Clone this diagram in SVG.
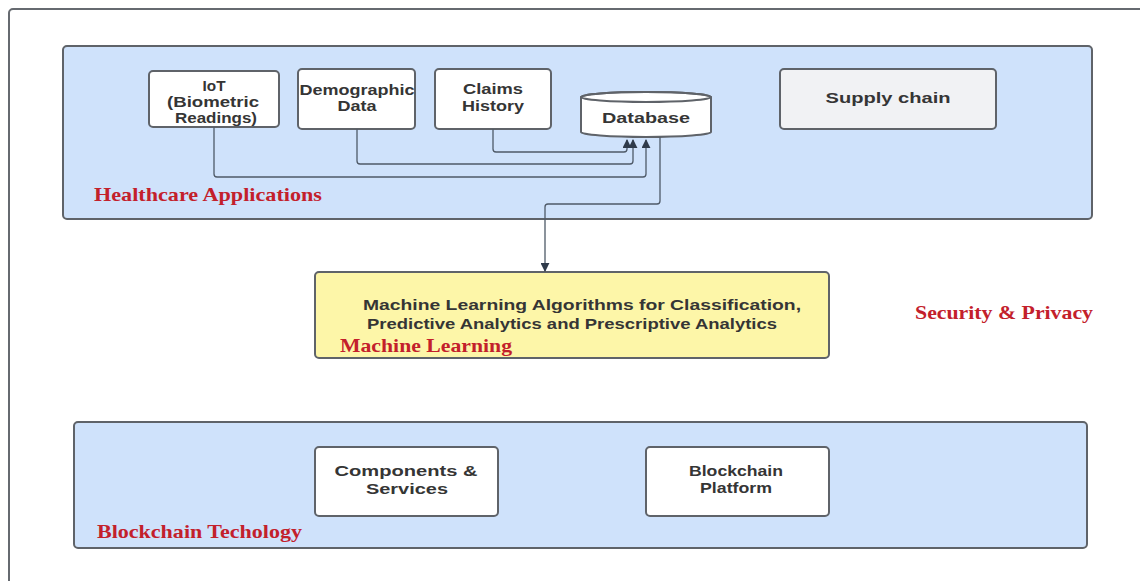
<svg xmlns="http://www.w3.org/2000/svg" width="1140" height="581" viewBox="0 0 1140 581">
<defs>
<style>
.frame{fill:#ffffff;stroke:#666a70;stroke-width:2}
.group{fill:#cfe2fb;stroke:#5f6369;stroke-width:2}
.node{fill:#ffffff;stroke:#5f6369;stroke-width:2}
.t{font-family:"Liberation Sans",Arial,sans-serif;font-weight:bold;font-size:15px;fill:#353535;text-anchor:middle}
.lbl{font-family:"Liberation Serif","Times New Roman",serif;font-weight:bold;font-size:19px;fill:#c3202b}
.conn{fill:none;stroke:#4f5a68;stroke-width:1.3}
</style>
<marker id="ah" viewBox="0 0 10 10" refX="9" refY="5" markerWidth="9" markerHeight="9" markerUnits="userSpaceOnUse" orient="auto">
<path d="M0,0 L10,5 L0,10 z" fill="#2f3a4a"/>
</marker>
</defs>
<rect x="0" y="0" width="1140" height="581" fill="#ffffff"/>
<rect class="frame" x="9" y="9" width="1140" height="580" rx="4"/>

<g id="healthcare">
<rect class="group" x="63" y="46" width="1029" height="173" rx="4"/>
<text class="lbl" x="94" y="201" textLength="228" lengthAdjust="spacingAndGlyphs">Healthcare Applications</text>
</g>
<g id="iot">
<rect class="node" x="149" y="71" width="130" height="56" rx="4"/>
<text class="t" x="214" y="91" textLength="23" lengthAdjust="spacingAndGlyphs">IoT</text>
<text class="t" x="213" y="107" textLength="92" lengthAdjust="spacingAndGlyphs">(Biometric</text>
<text class="t" x="216" y="123" textLength="82" lengthAdjust="spacingAndGlyphs">Readings)</text>
</g>
<g id="demographic">
<rect class="node" x="298" y="69" width="117" height="60" rx="4"/>
<text class="t" x="357" y="95" textLength="115" lengthAdjust="spacingAndGlyphs">Demographic</text>
<text class="t" x="357" y="111" textLength="39" lengthAdjust="spacingAndGlyphs">Data</text>
</g>
<g id="claims">
<rect class="node" x="435" y="69" width="116" height="60" rx="4"/>
<text class="t" x="493" y="94" textLength="60" lengthAdjust="spacingAndGlyphs">Claims</text>
<text class="t" x="493" y="111" textLength="62" lengthAdjust="spacingAndGlyphs">History</text>
</g>
<g id="database">
<path class="node" d="M581,97 L581,132 A65,5 0 0 0 711,132 L711,97 A65,5 0 0 0 581,97 Z"/>
<ellipse cx="646" cy="97" rx="65" ry="5" fill="none" stroke="#5f6369" stroke-width="2"/>
<text class="t" x="646" y="123" textLength="88" lengthAdjust="spacingAndGlyphs">Database</text>
</g>
<g id="supply">
<rect x="780" y="69" width="216" height="60" rx="4" fill="#f1f2f4" stroke="#5f6369" stroke-width="2"/>
<text class="t" x="888" y="103" textLength="125" lengthAdjust="spacingAndGlyphs">Supply chain</text>
</g>

<g id="ml">
<rect x="315" y="272" width="514" height="86" rx="4" fill="#fdf6a8" stroke="#5f6369" stroke-width="2"/>
<text class="t" x="582" y="310" textLength="438" lengthAdjust="spacingAndGlyphs">Machine Learning Algorithms for Classification,</text>
<text class="t" x="572" y="329" textLength="410" lengthAdjust="spacingAndGlyphs">Predictive Analytics and Prescriptive Analytics</text>
<text class="lbl" x="340" y="352" textLength="172" lengthAdjust="spacingAndGlyphs">Machine Learning</text>
</g>

<g id="security">
<text class="lbl" x="915" y="319" textLength="178" lengthAdjust="spacingAndGlyphs">Security &amp; Privacy</text>
</g>

<g id="blockchain">
<rect class="group" x="74" y="422" width="1013" height="126" rx="4"/>
<text class="lbl" x="97" y="538" textLength="205" lengthAdjust="spacingAndGlyphs">Blockchain Techology</text>
</g>
<g id="components">
<rect class="node" x="315" y="447" width="183" height="69" rx="4"/>
<text class="t" x="406" y="476" textLength="143" lengthAdjust="spacingAndGlyphs">Components &amp;</text>
<text class="t" x="407" y="494" textLength="82" lengthAdjust="spacingAndGlyphs">Services</text>
</g>
<g id="platform">
<rect class="node" x="646" y="447" width="183" height="69" rx="4"/>
<text class="t" x="736" y="476" textLength="94" lengthAdjust="spacingAndGlyphs">Blockchain</text>
<text class="t" x="736" y="493" textLength="72" lengthAdjust="spacingAndGlyphs">Platform</text>
</g>

<g id="connectors">
<path class="conn" d="M493,129 L493,149 Q493,152 496,152 L624,152 Q627,152 627,149 L627,140" marker-end="url(#ah)"/>
<path class="conn" d="M357,129 L357,161 Q357,164 360,164 L630,164 Q633,164 633,161 L633,140" marker-end="url(#ah)"/>
<path class="conn" d="M214,127 L214,174 Q214,177 217,177 L643,177 Q646,177 646,174 L646,140" marker-end="url(#ah)"/>
<path class="conn" d="M660,137 L660,201 Q660,204 657,204 L548,204 Q545,204 545,207 L545,271" marker-end="url(#ah)"/>
</g>
</svg>
